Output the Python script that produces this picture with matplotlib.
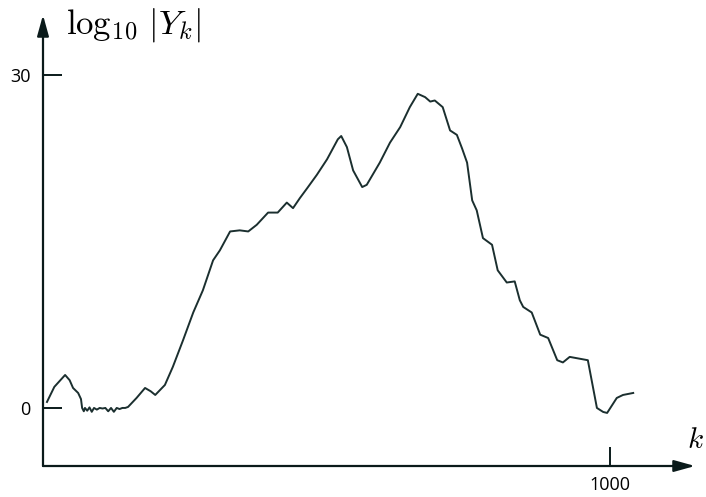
import numpy as np
import matplotlib.pyplot as plt

plt.rcParams['mathtext.fontset'] = 'cm'

# k values and log10|Y_k|
k = [7, 20, 39, 47, 53, 62, 67, 69, 72, 74, 78, 82, 86, 90, 95, 100, 105, 110,
     115, 120, 125, 130, 135, 140, 145, 150, 165, 180, 190, 198, 215, 229, 247,
     265, 282, 300, 312, 330, 347, 362, 377, 397, 414, 430, 441, 453, 466, 483,
     501, 520, 526, 536, 547, 563, 571, 594, 612, 630, 647, 661, 674, 683, 691,
     705, 718, 730, 739, 748, 757, 765, 776, 792, 802, 818, 832, 841, 847, 862,
     877, 891, 907, 917, 929, 961, 977, 988, 995, 1012, 1023, 1041]
logY = [0.54, 1.9, 2.97, 2.5, 1.80, 1.35, 0.8, 0.0, -0.3, 0.0, -0.25, 0.05,
        -0.35, 0.0, -0.15, 0.0, -0.05, 0.0, -0.3, 0.0, -0.35, 0.0, -0.1, 0.0,
        0.0, 0.09, 0.9, 1.80, 1.5, 1.17, 2.07, 3.7, 6.1, 8.6, 10.6, 13.3, 14.2,
        15.9, 16.0, 15.9, 16.5, 17.6, 17.6, 18.5, 18.0, 18.9, 19.8, 21.0, 22.4,
        24.2, 24.5, 23.5, 21.4, 19.9, 20.1, 22.1, 23.9, 25.3, 27.1, 28.3, 28.0,
        27.6, 27.7, 27.1, 25.0, 24.6, 23.4, 22.1, 18.7, 17.8, 15.3, 14.7, 12.4,
        11.3, 11.4, 9.7, 9.1, 8.6, 6.6, 6.3, 4.3, 4.1, 4.6, 4.3, 0.0, -0.36,
        -0.45, 0.9, 1.17, 1.35]

ytick_vals = [0, 30]
xtick_vals = [1000]

fig = plt.figure(figsize=(7.06, 4.97), dpi=100)
ax = fig.add_axes([43/706, 31/497, (695-43)/706, (466-15)/497])

ax.plot(k, logY, color='#1b2f2f', lw=1.4)

ax.set_xlim(0, 1150)
ax.set_ylim(-5.23, 35.4)

for s in ax.spines.values():
    s.set_visible(False)

# axes drawn as arrows
arr = dict(arrowstyle='-|>,head_length=0.9,head_width=0.25', color='#0a1a1a',
           lw=1.6, mutation_scale=14, shrinkA=0, shrinkB=0)
ax.annotate('', xy=(1, 0), xytext=(0, 0), xycoords='axes fraction', arrowprops=arr)
ax.annotate('', xy=(0, 1), xytext=(0, 0), xycoords='axes fraction', arrowprops=arr)

ax.set_yticks(ytick_vals)
ax.set_yticklabels([str(v) for v in ytick_vals], fontfamily='Open Sans', fontsize=13)
ax.set_xticks(xtick_vals)
ax.set_xticklabels([str(v) for v in xtick_vals], fontfamily='Open Sans', fontsize=13)
ax.tick_params(axis='y', direction='in', length=14, width=1.4, color='#0a1a1a', pad=9)
ax.tick_params(axis='x', direction='in', length=14, width=1.4, color='#0a1a1a', pad=7)

fig.text(66/706, 1 - 25/497, r'$\log_{10}\,|Y_k|$', fontsize=25, va='center', ha='left')
fig.text(704/706, 1 - 440/497, r'$k$', fontsize=21, va='center', ha='right')

fig.savefig('out.png', dpi=100, facecolor='white')
